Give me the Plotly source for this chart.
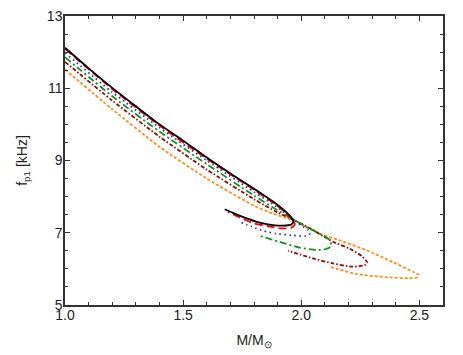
import plotly.graph_objects as go

# ---- data ----
black_m = [1.0, 1.1, 1.2, 1.3, 1.4, 1.5, 1.6, 1.7, 1.8, 1.85, 1.9, 1.94, 1.958, 1.966, 1.958, 1.935, 1.88, 1.82, 1.76, 1.71, 1.676]
black_f = [12.12, 11.55, 11.01, 10.50, 10.00, 9.55, 9.08, 8.64, 8.22, 8.00, 7.77, 7.55, 7.42, 7.31, 7.23, 7.20, 7.21, 7.29, 7.42, 7.55, 7.65]

red_m = [1.0, 1.2, 1.4, 1.6, 1.8, 1.9, 1.95, 1.968, 1.972, 1.958, 1.915, 1.86, 1.80, 1.74, 1.69]
red_f = [12.09, 10.98, 9.97, 9.05, 8.19, 7.74, 7.45, 7.33, 7.22, 7.14, 7.12, 7.18, 7.26, 7.42, 7.57]

blue_m = [1.0, 1.2, 1.4, 1.6, 1.8, 1.9, 1.96, 2.0, 2.03, 2.037, 2.02, 1.96, 1.89, 1.84, 1.79, 1.74]
blue_f = [11.98, 10.89, 9.91, 9.00, 8.13, 7.70, 7.40, 7.20, 7.07, 6.98, 6.91, 6.93, 6.98, 7.05, 7.17, 7.30]

green_m = [1.0, 1.2, 1.4, 1.6, 1.8, 1.9, 1.965, 2.021, 2.077, 2.12, 2.127, 2.105, 2.063, 1.993, 1.922, 1.817]
green_f = [11.86, 10.78, 9.80, 8.90, 8.03, 7.62, 7.38, 7.16, 6.98, 6.80, 6.63, 6.55, 6.52, 6.59, 6.72, 6.93]

brown_m = [1.0, 1.2, 1.4, 1.6, 1.8, 1.9, 1.97, 2.035, 2.134, 2.204, 2.255, 2.28, 2.267, 2.218, 2.134, 2.049, 1.944]
brown_f = [11.73, 10.66, 9.66, 8.75, 7.93, 7.56, 7.35, 7.13, 6.75, 6.56, 6.36, 6.17, 6.10, 6.06, 6.15, 6.29, 6.50]

orange_m = [1.0, 1.2, 1.4, 1.6, 1.8, 1.88, 1.94, 1.993, 2.077, 2.162, 2.275, 2.387, 2.472, 2.497, 2.49, 2.458, 2.36, 2.232, 2.12]
orange_f = [11.52, 10.42, 9.38, 8.50, 7.75, 7.53, 7.40, 7.26, 6.98, 6.79, 6.52, 6.19, 5.92, 5.83, 5.76, 5.74, 5.77, 5.86, 6.06]

x_ticks = [1.0, 1.5, 2.0, 2.5]
x_labels = ["1.0", "1.5", "2.0", "2.5"]
y_ticks = [5, 7, 9, 11, 13]
y_labels = ["5", "7", "9", "11", "13"]

series = [
    (black_m, black_f, "#000000", "solid", 1.8),
    (red_m, red_f, "#ff0000", "8px,4px", 1.8),
    (blue_m, blue_f, "#2b2bb8", "1.5px,3.5px", 1.8),
    (green_m, green_f, "#11961a", "7px,3px,2px,3px", 1.8),
    (brown_m, brown_f, "#8b0a0a", "4px,2px,1.5px,2px", 1.8),
    (orange_m, orange_f, "#ff8c1a", "3px,2px", 1.8),
]

fig = go.Figure()
for m, f, c, d, w in series[::-1]:
    fig.add_trace(go.Scatter(x=m, y=f, mode="lines", line=dict(color=c, dash=d, width=w, shape="spline", smoothing=0.6),
                             showlegend=False, hoverinfo="skip"))

font = dict(family="Liberation Sans, Arial, sans-serif", size=14, color="#222222")
axis_common = dict(
    showline=True, linecolor="#333333", linewidth=1.5, mirror="allticks",
    ticks="inside", ticklen=5, tickwidth=1.2, tickcolor="#333333",
    showgrid=False, zeroline=False, automargin=False,
    tickfont=font, ticklabeloverflow="allow",
)

fig.update_xaxes(range=[1.0, 2.6], tickvals=x_ticks, ticktext=x_labels,
                 minor=dict(dtick=0.1, ticks="inside", ticklen=3, tickcolor="#333333", tick0=1.0),
                 ticklabelstandoff=-4,
                 title=dict(text="M/M<sub>⊙</sub>", font=font, standoff=14),
                 **axis_common)
fig.update_yaxes(range=[5, 13], tickvals=y_ticks, ticktext=y_labels,
                 minor=dict(dtick=0.5, ticks="inside", ticklen=3, tickcolor="#333333", tick0=5),
                 ticklabelstandoff=-2,
                 title=dict(text="f<sub>p1</sub> [kHz]", font=font, standoff=16),
                 **axis_common)

# the page adds an 8px body margin, so the figure is offset by that amount
fig.update_layout(width=455, height=347, margin=dict(l=57, r=20, t=8, b=50),
                  plot_bgcolor="white", paper_bgcolor="white")
fig.write_html("out.html")
